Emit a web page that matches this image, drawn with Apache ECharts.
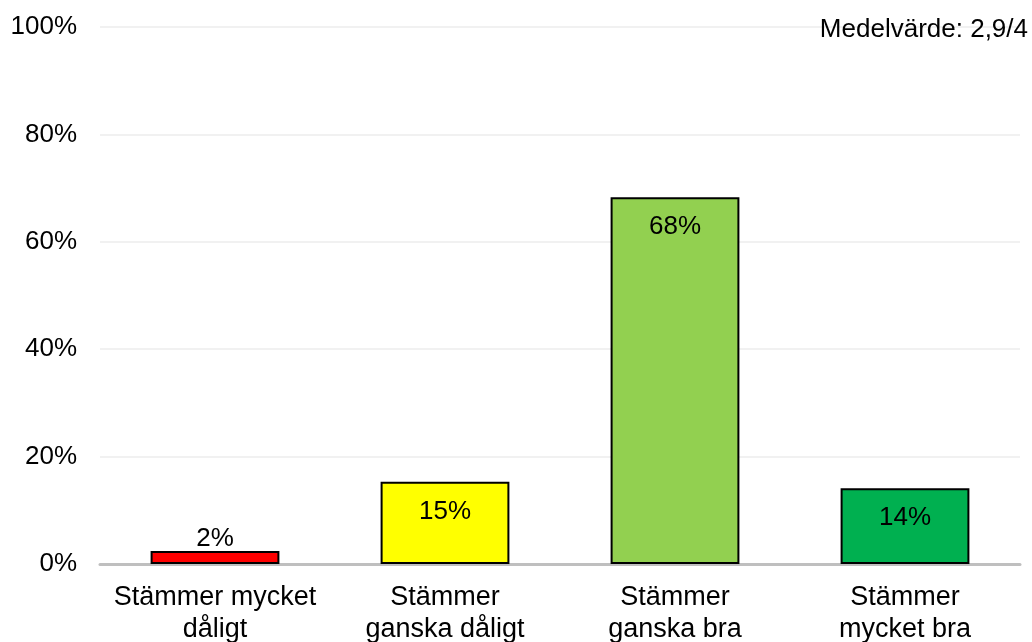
<!DOCTYPE html>
<html><head><meta charset="utf-8">
<script src="https://cdn.jsdelivr.net/npm/echarts@6/dist/echarts.min.js"></script>
<style>html,body{margin:0;padding:0;background:#fff}#c{width:1032px;height:642px}</style>
</head><body><div id="c"></div>
<script>
const categories = ['Stämmer mycket\ndåligt', 'Stämmer\nganska dåligt', 'Stämmer\nganska bra', 'Stämmer\nmycket bra'];
const values = [2.4, 15.3, 68.3, 14.1];
const barColors = ['#ff0000', '#ffff00', '#92d050', '#00b050'];
const labelPositions = ['top', 'insideTop', 'insideTop', 'insideTop'];
const yTicks = [0, 20, 40, 60, 80, 100];
const meanText = 'Medelvärde: 2,9/4';

const font = 'Liberation Sans, Arial, sans-serif';
const chart = echarts.init(document.getElementById('c'));
chart.setOption({
  animation: false,
  title: { text: meanText, right: 4, top: 17, padding: 0, textStyle: { fontFamily: font, fontSize: 26, fontWeight: 'normal', color: '#000' } },
  grid: { left: 100, right: 12, top: 27, bottom: 78, containLabel: false, outerBoundsMode: 'none' },
  xAxis: {
    type: 'category', data: categories,
    axisLine: { lineStyle: { color: '#bfbfbf', width: 3 } },
    axisTick: { show: false },
    axisLabel: { fontFamily: font, fontSize: 27, color: '#000', lineHeight: 32, margin: 18, interval: 0 }
  },
  yAxis: {
    type: 'value', min: 0, max: 100, interval: 20,
    axisLine: { show: false }, axisTick: { show: false },
    splitLine: { lineStyle: { color: '#ececec', width: 1.5 } },
    axisLabel: { fontFamily: font, fontSize: 26, color: '#000', margin: 23, lineHeight: 30, verticalAlign: 'middle', padding: [3, 0, 0, 0], formatter: v => yTicks.includes(v) ? v + '%' : '' }
  },
  series: [{
    type: 'bar', barWidth: '56%',
    data: values.map((v, i) => ({
      value: v,
      itemStyle: { color: barColors[i], borderColor: '#000', borderWidth: 2 },
      label: { show: true, position: labelPositions[i], distance: labelPositions[i] === 'top' ? -1 : 17 }
    })),
    label: { fontFamily: font, fontSize: 26, color: '#000', formatter: p => Math.round(p.value) + '%' }
  }]
});
</script></body></html>
